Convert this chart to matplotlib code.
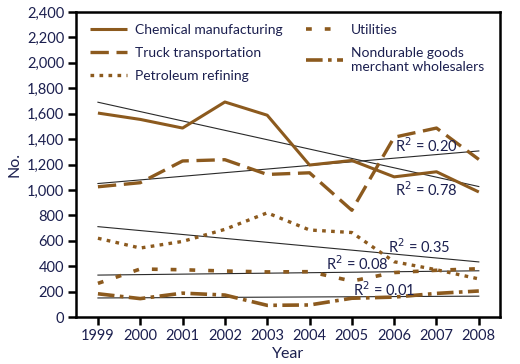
import numpy as np
import matplotlib.pyplot as plt

plt.rcParams["font.family"] = ["Lato", "DejaVu Sans"]

TEXT = "#1b1f4f"
BROWN = "#8c5a1e"

years = np.arange(1999, 2009)
chemical = [1605, 1555, 1487, 1692, 1588, 1196, 1232, 1103, 1143, 984]
truck = [1025, 1057, 1228, 1238, 1122, 1135, 840, 1415, 1487, 1240]
petroleum = [620, 543, 595, 690, 820, 685, 665, 435, 372, 300]
utilities = [265, 378, 372, 362, 355, 357, 283, 350, 368, 380]
nondurable = [183, 145, 188, 173, 92, 95, 148, 157, 186, 205]

labels = ["Chemical manufacturing", "Truck transportation", "Petroleum refining",
          "Utilities", "Nondurable goods\nmerchant wholesalers"]
r2_labels = ["0.78", "0.20", "0.35", "0.08", "0.01"]
r2_pos = [(2006.75, 1005), (2006.75, 1346), (2006.6, 553), (2005.13, 422), (2005.76, 212)]

series = [chemical, truck, petroleum, utilities, nondurable]
styles = [
    dict(linestyle="-", lw=2.2),
    dict(dashes=(5.5, 2.3), lw=2.4),
    dict(dashes=(1.1, 1.6), lw=2.4),
    dict(dashes=(1.6, 3.6), lw=2.6),
    dict(dashes=(4.6, 1.5, 1.0, 1.5), lw=2.6),
]

fig = plt.figure(figsize=(5.2, 3.64), dpi=100)
ax = fig.add_axes([0.146, 0.129, 0.8155, 0.838])

handles = []
for vals, st, lab in zip(series, styles, labels):
    (h,) = ax.plot(years, vals, color=BROWN, label=lab, solid_capstyle="butt",
                   dash_capstyle="butt", zorder=3, **st)
    handles.append(h)

# linear trend lines
for vals in series:
    k, b = np.polyfit(years, vals, 1)
    ax.plot(years, k * years + b, color="#2a2a2a", lw=0.8, zorder=2)

for r2, (x, y) in zip(r2_labels, r2_pos):
    ax.text(x, y, f"R$^2$ = {r2}", ha="center", va="center", fontsize=10.5, color=TEXT, zorder=4)

ax.set_xlim(1998.48, 2008.5)
ax.set_ylim(0, 2400)
ax.set_xticks(years)
ax.set_yticks(np.arange(0, 2401, 200))
ax.set_yticklabels([f"{v:,}" for v in range(0, 2401, 200)])
ax.tick_params(axis="both", colors="black", labelcolor=TEXT, labelsize=10.5,
               width=1.8, length=5.5, pad=3)
for s in ax.spines.values():
    s.set_linewidth(1.8)

ax.set_xlabel("Year", fontsize=11.5, color=TEXT, labelpad=3)
ax.set_ylabel("No.", fontsize=11.5, color=TEXT, labelpad=4)

ax.legend(handles=handles, ncol=2, loc="upper left", bbox_to_anchor=(0.033, 0.96),
          frameon=False, fontsize=10, handlelength=2.66, handletextpad=0.58,
          columnspacing=1.7, labelspacing=0.78, borderpad=0, borderaxespad=0,
          labelcolor=TEXT)

fig.savefig("out.png", dpi=100)
